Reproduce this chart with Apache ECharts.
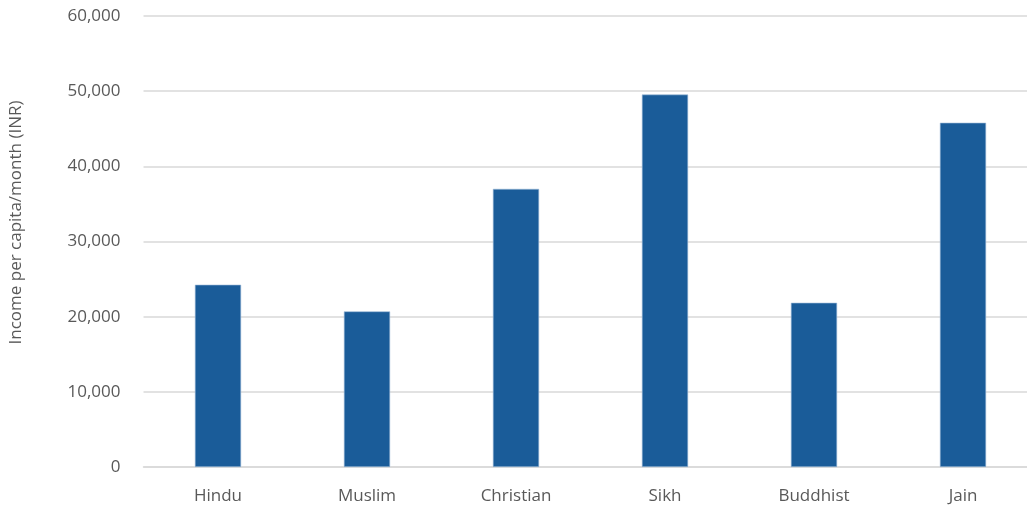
<!DOCTYPE html>
<html>
<head>
<meta charset="utf-8">
<script src="https://cdn.jsdelivr.net/npm/echarts@6/dist/echarts.min.js"></script>
<style>
html,body{margin:0;padding:0;background:#fff;}
#chart{width:1027px;height:506px;}
</style>
</head>
<body>
<div id="chart"></div>
<script>
const categories = ["Hindu", "Muslim", "Christian", "Sikh", "Buddhist", "Jain"];
const incomeValues = [24250, 20700, 37000, 49550, 21850, 45800];
const yTicks = [0, 10000, 20000, 30000, 40000, 50000, 60000];
const yAxisTitle = "Income per capita/month (INR)";

const chart = echarts.init(document.getElementById('chart'), null, {renderer: 'canvas'});
const font = '"Open Sans", "Noto Sans", sans-serif';
chart.setOption({
  animation: false,
  grid: {left: 143.5, top: 16, width: 894, height: 451, containLabel: false, outerBoundsMode: 'none'},
  xAxis: {
    type: 'category',
    data: categories,
    axisLine: {show: true, lineStyle: {color: '#d9d9d9', width: 1.5}},
    axisTick: {show: false},
    axisLabel: {color: '#595959', fontSize: 17, fontFamily: font, margin: 21}
  },
  yAxis: {
    type: 'value',
    min: yTicks[0],
    max: yTicks[yTicks.length - 1],
    interval: 10000,
    name: yAxisTitle,
    nameLocation: 'middle',
    nameGap: 119,
    nameTextStyle: {color: '#595959', fontSize: 17, fontFamily: font, padding: [0, 0, 0, 38]},
    axisLine: {show: false},
    axisTick: {show: false},
    splitLine: {lineStyle: {color: '#d9d9d9', width: 1.5}},
    axisLabel: {
      color: '#595959', fontSize: 17, fontFamily: font, margin: 23,
      formatter: v => v.toLocaleString('en-US')
    }
  },
  series: [{
    type: 'bar',
    data: incomeValues,
    barWidth: '31%',
    itemStyle: {color: '#1a5c99', borderColor: '#9dbbd9', borderWidth: 0.6}
  }]
});
</script>
</body>
</html>
